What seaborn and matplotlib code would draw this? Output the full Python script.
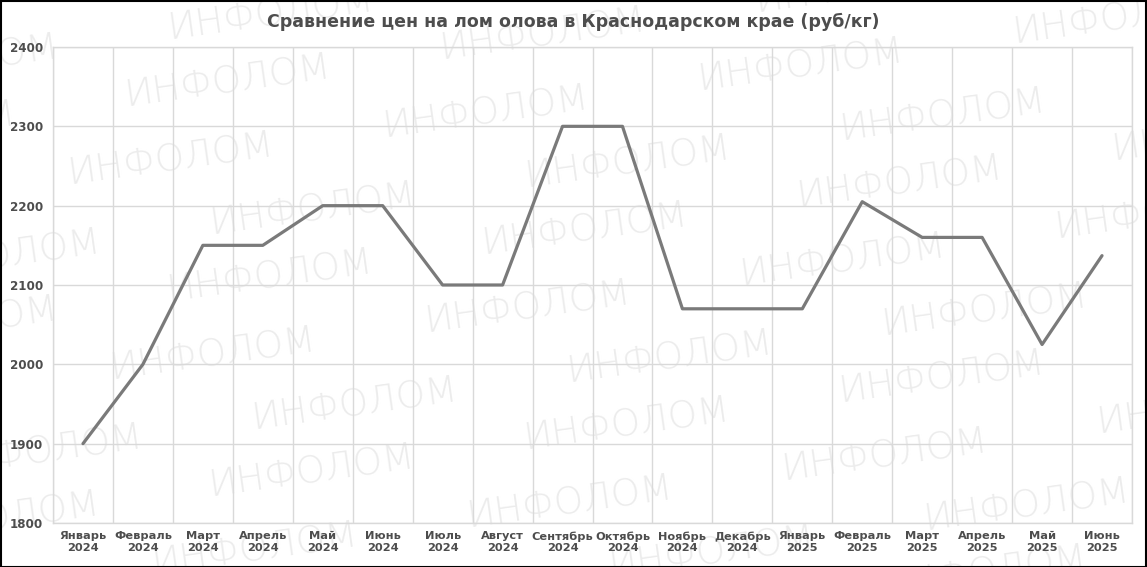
import numpy as np
import pandas as pd
import matplotlib
matplotlib.use("Agg")
import matplotlib.pyplot as plt
from matplotlib.patches import Rectangle
import seaborn as sns

# данные
months = ["Январь", "Февраль", "Март", "Апрель", "Май", "Июнь", "Июль", "Август",
          "Сентябрь", "Октябрь", "Ноябрь", "Декабрь",
          "Январь", "Февраль", "Март", "Апрель", "Май", "Июнь"]
years = ["2024"] * 12 + ["2025"] * 6
prices = [1900, 2000, 2150, 2150, 2200, 2200, 2100, 2100, 2300, 2300,
          2070, 2070, 2070, 2205, 2160, 2160, 2025, 2137]
y_ticks = [1800, 1900, 2000, 2100, 2200, 2300, 2400]

labels = [f"{m}\n{y}" for m, y in zip(months, years)]
df = pd.DataFrame({"month": labels, "price": prices})

sns.set_theme(style="white")
plt.rcParams["font.family"] = ["DejaVu Sans"]

W, H = 1147, 567
fig = plt.figure(figsize=(W / 100, H / 100), dpi=100)
ax = fig.add_axes([53 / W, 1 - 523 / H, (1132 - 53) / W, (523 - 47) / H])
ax.patch.set_alpha(0)

sns.lineplot(data=df, x="month", y="price", ax=ax, color="#7a7a7a",
             linewidth=2.3, sort=False)

ax.set_xlim(-0.5, len(labels) - 0.5)
ax.set_ylim(1800, 2400)
ax.set_yticks(y_ticks)
ax.set_xticks(range(len(labels)))
ax.set_xticklabels(labels)
ax.set_xticks(np.arange(-0.5, len(labels), 1), minor=True)
ax.grid(which="minor", axis="x", color="#d9d9d9", linewidth=1)
ax.grid(which="major", axis="y", color="#d9d9d9", linewidth=1)
ax.grid(which="major", axis="x", visible=False)
ax.tick_params(which="both", length=0)
ax.tick_params(axis="y", pad=7, labelsize=8.6, labelcolor="#4d4d4d")
ax.tick_params(axis="x", pad=6, labelsize=8.2, labelcolor="#4d4d4d")
for t in ax.get_xticklabels() + ax.get_yticklabels():
    t.set_fontweight("bold")
    t.set_linespacing(1.15)
for s in ax.spines.values():
    s.set_color("#d9d9d9")
    s.set_linewidth(1)
ax.set_xlabel("")
ax.set_ylabel("")

fig.text(0.5, 1 - 22 / H, "Сравнение цен на лом олова в Краснодарском крае (руб/кг)",
         ha="center", va="center", fontsize=12.5, fontweight="bold", color="#4d4d4d")

# водяные знаки
anchor = np.array([271, 15])
v1 = np.array([42, 195])
v2 = np.array([315, -47])
offs = [np.array([0, 0]), np.array([-43, 67]), np.array([-100, 145])]
for i in range(-2, 5):
    for j in range(-2, 6):
        for o in offs:
            px, py = anchor + i * v1 + j * v2 + o
            if -150 < px < W + 150 and -60 < py < H + 60:
                fig.text(px / W, 1 - py / H, "ИНФОЛОМ", ha="center", va="center",
                         rotation=8, fontsize=27, color="#ececec", zorder=-1,
                         fontweight="light")

fig.patches.append(Rectangle((0.5 / W, 0.5 / H), 1 - 1.5 / W, 1 - 1.5 / H,
                             transform=fig.transFigure, fill=False,
                             edgecolor="black", linewidth=1.5))

fig.savefig("out.png", dpi=100)
